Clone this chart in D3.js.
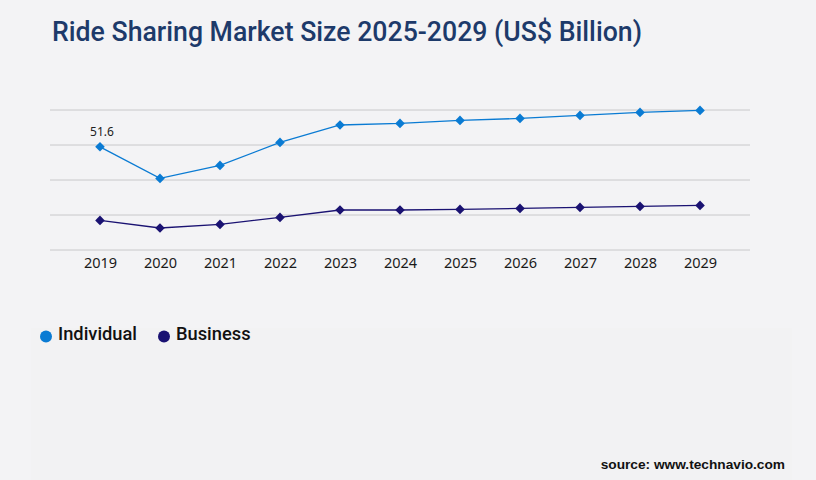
<!DOCTYPE html>
<html>
<head>
<meta charset="utf-8">
<script src="https://cdn.jsdelivr.net/npm/d3@7"></script>
<style>
  body { margin: 0; background: #f3f3f5; }
  svg { display: block; }
</style>
</head>
<body>
<svg width="816" height="480"></svg>
<script>
const years = ["2019", "2020", "2021", "2022", "2023", "2024", "2025", "2026", "2027", "2028", "2029"];
const individual = [51.6, 35.8, 42.3, 53.8, 62.5, 63.3, 64.8, 65.8, 67.3, 68.8, 69.8];
const business = [14.8, 11.0, 12.8, 16.3, 20.0, 20.0, 20.3, 20.8, 21.3, 21.8, 22.3];
const gridValues = [0, 17.5, 35, 52.5, 70];

const seriesList = [
    { name: "Individual", values: individual, color: "#0a7bd3" },
    { name: "Business", values: business, color: "#1a1272" }
];

const svg = d3.select("svg"),
    width = +svg.attr("width"),
    height = +svg.attr("height");

svg.append("rect")
    .attr("width", width).attr("height", height)
    .attr("fill", "#f3f3f5");
// faint lower panel
svg.append("rect")
    .attr("x", 31).attr("y", 328).attr("width", 761).attr("height", 152)
    .attr("fill", "#f2f2f3");

svg.append("text")
    .attr("x", 52).attr("y", 41)
    .attr("textLength", 590)
    .attr("lengthAdjust", "spacingAndGlyphs")
    .style("font-family", "Roboto")
    .style("font-weight", "500")
    .style("font-size", "27px")
    .style("fill", "#1d3a6a")
    .text("Ride Sharing Market Size 2025-2029 (US$ Billion)");

const x = d3.scalePoint().domain(years).range([50, 750]).padding(0.833);
const y = d3.scaleLinear().domain([0, 70]).range([250, 110]);

// gridlines
svg.append("g")
    .selectAll("line")
    .data(gridValues)
    .join("line")
    .attr("x1", 50).attr("x2", 750)
    .attr("y1", d => y(d)).attr("y2", d => y(d))
    .attr("stroke", "#c8c8ca")
    .attr("stroke-width", 1);

// x axis labels
const xAxis = svg.append("g")
    .attr("transform", "translate(0,250)")
    .call(d3.axisBottom(x).tickSize(0).tickPadding(8));
xAxis.select(".domain").remove();
xAxis.selectAll("text")
    .style("font-family", "Noto Sans")
    .style("font-size", "14.5px")
    .style("fill", "#1a1a1a");

const line = d3.line()
    .x((d, i) => x(years[i]))
    .y(d => y(d));

for (let s of seriesList) {
    svg.append("path")
        .datum(s.values)
        .attr("d", line)
        .attr("fill", "none")
        .attr("stroke", s.color)
        .attr("stroke-width", 1.3);

    svg.append("g")
        .selectAll("path")
        .data(s.values)
        .join("path")
        .attr("transform", (d, i) => `translate(${x(years[i])},${y(d)}) rotate(45)`)
        .attr("d", d3.symbol(d3.symbolSquare, 46)())
        .attr("fill", s.color);
}

// first value label
svg.append("text")
    .attr("x", x(years[0]) + 2)
    .attr("y", y(individual[0]) - 11)
    .attr("text-anchor", "middle")
    .style("font-family", "Noto Sans")
    .style("font-size", "12px")
    .style("fill", "#222")
    .text(individual[0].toFixed(1));

// legend
const legendX = [46, 164];
seriesList.forEach((s, i) => {
    svg.append("circle")
        .attr("cx", legendX[i]).attr("cy", 336.5)
        .attr("r", 6)
        .attr("fill", s.color);
    svg.append("text")
        .attr("x", legendX[i] + 12).attr("y", 340)
        .style("font-family", "Roboto")
        .style("font-weight", "500")
        .style("font-size", "18.3px")
        .style("fill", "#111")
        .text(s.name);
});

svg.append("text")
    .attr("x", 785).attr("y", 469)
    .attr("text-anchor", "end")
    .style("font-family", "Liberation Sans")
    .style("font-weight", "bold")
    .style("font-size", "13.7px")
    .style("fill", "#111")
    .text("source: www.technavio.com");
</script>
</body>
</html>
